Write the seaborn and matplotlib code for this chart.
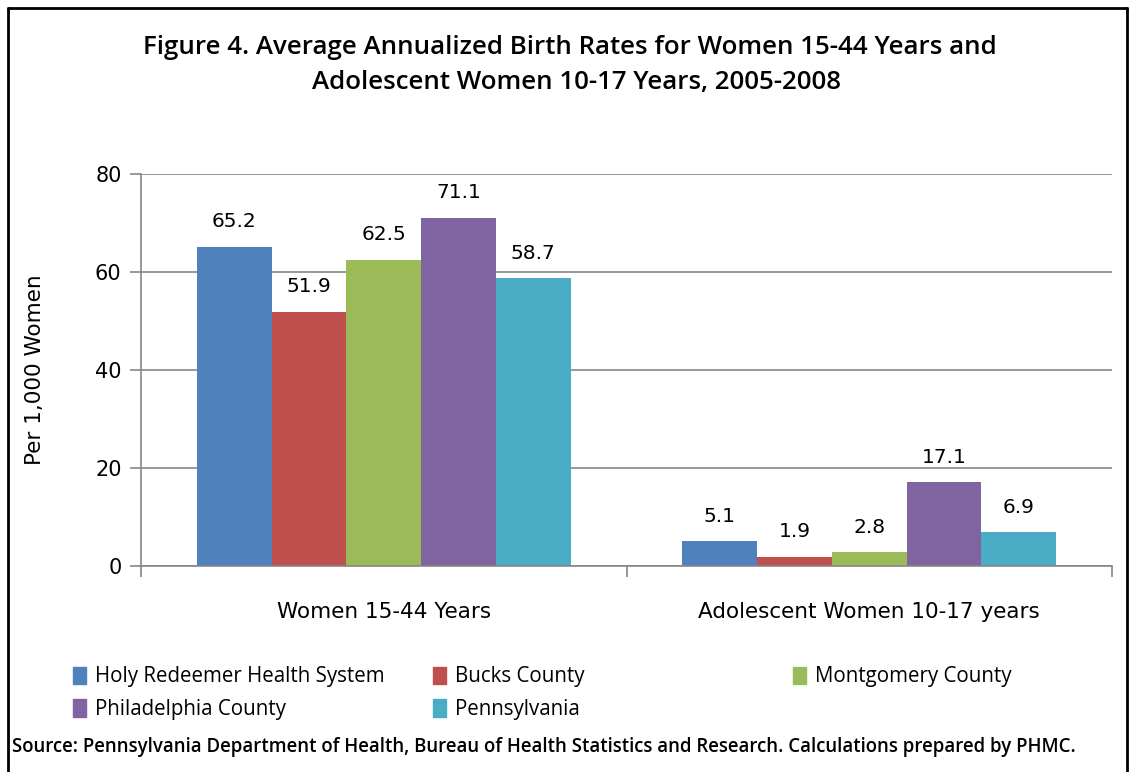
import matplotlib
matplotlib.use("Agg")
import matplotlib.pyplot as plt
import seaborn as sns
import pandas as pd
from matplotlib.lines import Line2D

categories = ["Women 15-44 Years", "Adolescent Women 10-17 years"]
series = ["Holy Redeemer Health System", "Bucks County", "Montgomery County",
          "Philadelphia County", "Pennsylvania"]
holy_redeemer = [65.2, 5.1]
bucks = [51.9, 1.9]
montgomery = [62.5, 2.8]
philadelphia = [71.1, 17.1]
pennsylvania = [58.7, 6.9]
colors = ["#4F81BD", "#C0504D", "#9BBB59", "#8064A2", "#4BACC6"]

values = [holy_redeemer, bucks, montgomery, philadelphia, pennsylvania]
rows = []
for s, vals in zip(series, values):
    for c, v in zip(categories, vals):
        rows.append({"Category": c, "Series": s, "Value": v})
df = pd.DataFrame(rows)

sns.set_theme(style="white")
plt.rcParams["font.family"] = ["DejaVu Sans"]
plt.rcParams["text.color"] = "black"
plt.rcParams["axes.labelcolor"] = "black"
plt.rcParams["xtick.color"] = "black"
plt.rcParams["ytick.color"] = "black"

fig = plt.figure(figsize=(11.35, 7.72), dpi=100)
ax = fig.add_axes([141/1135, 1-566/772, (1112-141)/1135, (566-174)/772])

sns.barplot(data=df, x="Category", y="Value", hue="Series", hue_order=series,
            order=categories, palette=colors, width=0.77, saturation=1,
            edgecolor="none", linewidth=0, ax=ax, legend=False, errorbar=None)

for cont in ax.containers:
    ax.bar_label(cont, fmt="%.1f", padding=11, fontsize=14.5, color="black")

ax.set_ylim(0, 80)
ax.set_yticks([0, 20, 40, 60, 80])
ax.set_xlim(-0.5, 1.5)
ax.yaxis.grid(True, color="#868686", linewidth=1.2)
ax.set_axisbelow(True)
for side in ["top", "right"]:
    ax.spines[side].set_visible(False)
for side in ["left", "bottom"]:
    ax.spines[side].set_color("#868686")
    ax.spines[side].set_linewidth(1.2)
ax.tick_params(axis="y", which="both", left=True, length=8, width=1.2, color="#868686",
               labelsize=15, pad=6, labelcolor="black")
ax.set_xticks([-0.5, 0.5, 1.5], minor=True)
ax.tick_params(axis="x", which="minor", bottom=True, length=8, width=1.2, color="#868686")
ax.tick_params(axis="x", which="major", bottom=False, labelsize=15.5, pad=20, labelcolor="black")
ax.set_xlabel("")
ax.set_ylabel("Per 1,000 Women", fontsize=15.5, labelpad=36, color="black")

fig.text(570/1135, 1-47/772, "Figure 4. Average Annualized Birth Rates for Women 15-44 Years and",
         ha="center", va="center", fontsize=18.6, fontweight="semibold", family="Open Sans",
         color="black")
fig.text(577/1135, 1-83/772, "Adolescent Women 10-17 Years, 2005-2008",
         ha="center", va="center", fontsize=18.6, fontweight="semibold", family="Open Sans",
         color="black")

# Legend: Excel-style equal-width columns, row-major order
col_x = [67/1135, 427/1135, 787/1135]
cols = [[0, 3], [1, 4], [2]]
for cx, idxs in zip(col_x, cols):
    hs = [plt.Rectangle((0, 0), 1, 1, color=colors[i]) for i in idxs]
    lg = fig.legend(hs, [series[i] for i in idxs], loc="upper left",
                    bbox_to_anchor=(cx, 1-660/772), ncol=1, frameon=False,
                    handlelength=0.6, handleheight=0.9, handletextpad=0.45,
                    labelspacing=0.58, borderaxespad=0, borderpad=0.3,
                    prop={"family": "Open Sans", "size": 14.8})
    for t in lg.get_texts():
        t.set_color("black")

fig.text(12/1135, 1-747/772,
         "Source: Pennsylvania Department of Health, Bureau of Health Statistics and Research. Calculations prepared by PHMC.",
         ha="left", va="center", fontsize=13.4, family="Open Sans", fontweight="semibold",
         color="black")

for xy in [((8/1135, 8/1135), (0, 1-8/772)), ((8/1135, 1127/1135), (1-8/772, 1-8/772)),
           ((1127/1135, 1127/1135), (0, 1-8/772))]:
    fig.add_artist(Line2D(xy[0], xy[1], color="black", linewidth=2, transform=fig.transFigure))

fig.savefig("out.png", dpi=100)
